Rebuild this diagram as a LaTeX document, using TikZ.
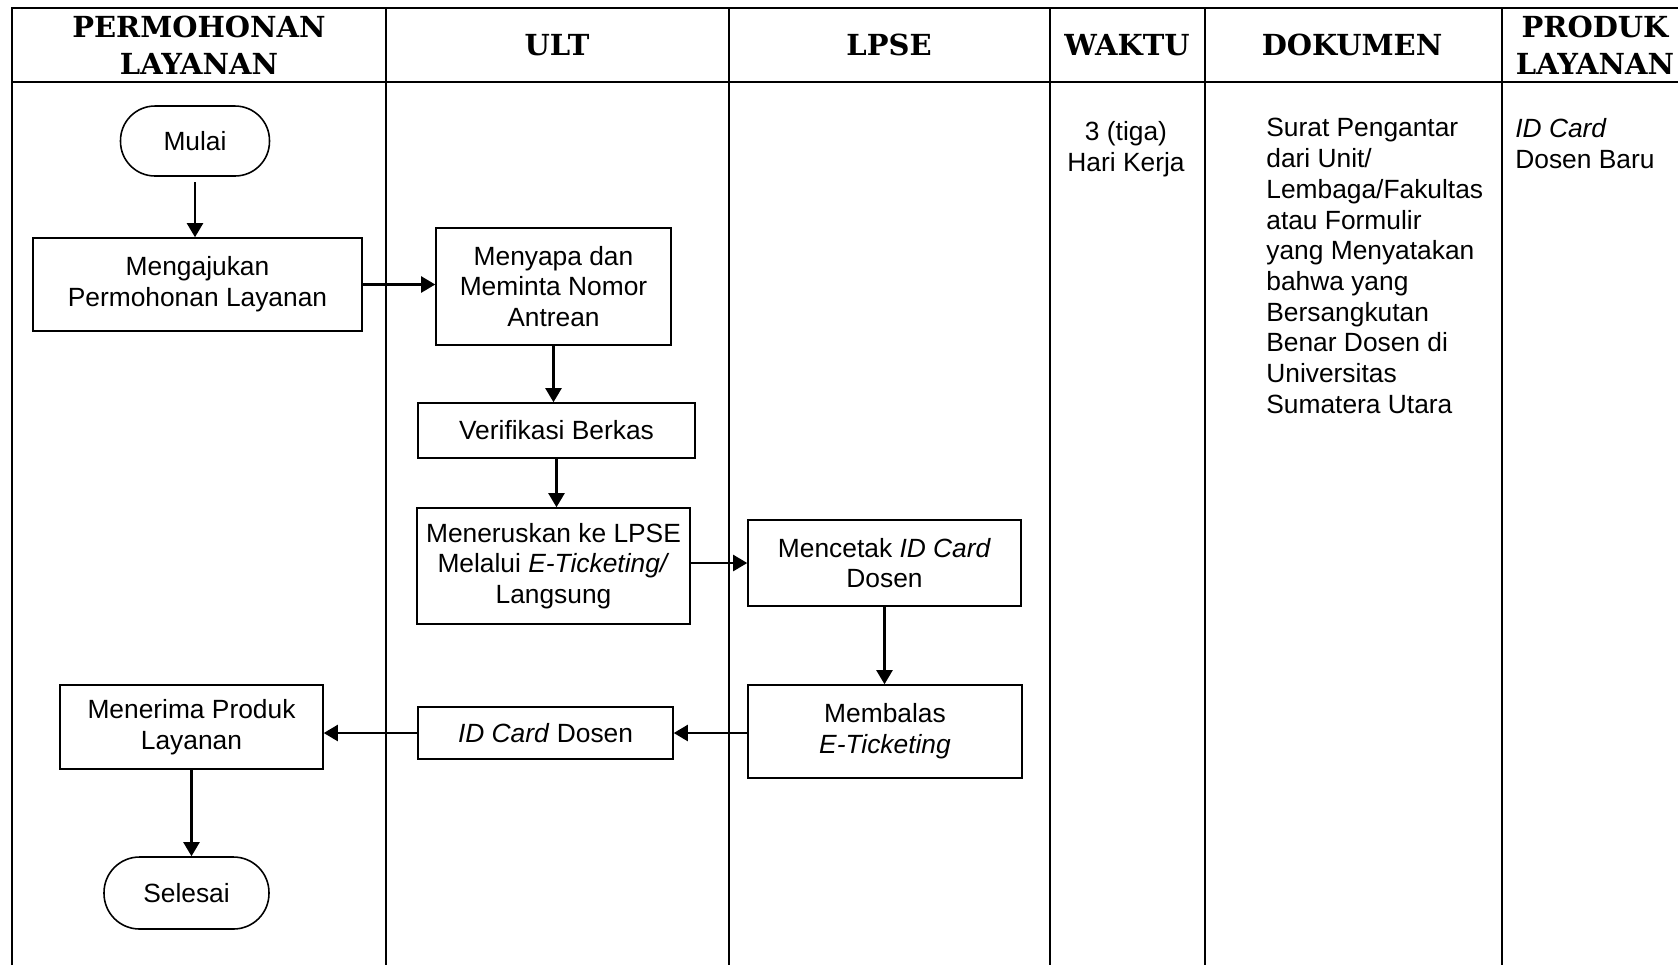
\documentclass[tikz,border=0pt]{standalone}
\usepackage{fontspec}
\usepackage{xcolor}
\usepackage{tikz}
\usetikzlibrary{arrows.meta}
\setmainfont{Liberation Sans}
\newfontfamily\headfont{DejaVu Serif}

\begin{document}
\begin{tikzpicture}[x=0.02cm, y=-0.02cm,
  every node/.style={font=\fontsize{15pt}{17.5pt}\selectfont},
  block/.style={rectangle, draw, line width=0.9pt, align=center, inner sep=0pt},
  term/.style={rectangle, draw, line width=0.9pt, align=center, rounded corners=0.69cm},
  head/.style={font=\headfont\bfseries\fontsize{16.5pt}{21pt}\selectfont, align=center},
  frame/.style={line width=1.4pt},
  arrow/.style={-{Triangle[length=0.28cm, width=0.32cm]}, line width=1.2pt}]

  \useasboundingbox (0,0) rectangle (1678,965);

  % table
  \draw[frame] (12,965) -- (12,8) -- (1678,8);
  \draw[frame] (12,82) -- (1678,82);
  \foreach \xc in {386,729,1050,1205,1502}
    \draw[frame] (\xc,8) -- (\xc,965);

  \node[head] (h1) at (199,45) {PERMOHONAN\\LAYANAN};
  \node[head] (h2) at (557,45) {ULT};
  \node[head] (h3) at (889,45) {LPSE};
  \node[head] (h4) at (1127,45) {WAKTU};
  \node[head] (h5) at (1352,45) {DOKUMEN};
  \node[head] (h6) at (1595,45) {PRODUK\\LAYANAN};

  % flow
  \node[term, minimum width=2.98cm, minimum height=1.40cm] (mulai) at (195,141) {Mulai};
  \node[block, minimum width=6.58cm, minimum height=1.86cm] (ajukan) at (197.5,284.5) {Mengajukan\\Permohonan Layanan};
  \node[block, minimum width=4.70cm, minimum height=2.34cm] (sapa) at (553.5,286.5) {Menyapa dan\\Meminta Nomor\\Antrean};
  \node[block, minimum width=5.54cm, minimum height=1.10cm] (verif) at (556.5,430.5) {Verifikasi Berkas};
  \node[block, minimum width=5.46cm, minimum height=2.32cm] (terus) at (553.5,566) {Meneruskan ke LPSE\\Melalui \textit{E-Ticketing/}\\Langsung};
  \node[block, minimum width=5.46cm, minimum height=1.72cm] (cetak) at (884.5,563) {Mencetak \textit{ID Card}\\Dosen};
  \node[block, minimum width=5.48cm, minimum height=1.86cm] (balas) at (885,731.5) {Membalas\\\textit{E-Ticketing}};
  \node[block, minimum width=5.10cm, minimum height=1.04cm] (idcard) at (545.5,733) {\textit{ID Card} Dosen};
  \node[block, minimum width=5.26cm, minimum height=1.68cm] (terima) at (191.5,727) {Menerima Produk\\Layanan};
  \node[term, minimum width=3.30cm, minimum height=1.44cm, rounded corners=0.71cm] (selesai) at (186.5,893) {Selesai};

  % columns
  \node[anchor=north, align=center] (waktu) at (1126,115) {3 (tiga)\\Hari Kerja};
  \node[anchor=north west, align=left, inner sep=0pt] (dok) at (1266,118) {Surat Pengantar\\dari Unit/\\Lembaga/Fakultas\\atau Formulir\\yang Menyatakan\\bahwa yang\\Bersangkutan\\Benar Dosen di\\Universitas\\Sumatera Utara};
  \node[anchor=north west, align=left, inner sep=0pt] (produk) at (1515,118) {\textit{ID Card}\\Dosen Baru};

  \draw[arrow, shorten <=3pt] (mulai.south) -- (mulai.south |- ajukan.north);
  \draw[arrow] (ajukan.east) -- (ajukan.east -| sapa.west);
  \draw[arrow] (sapa.south) -- (sapa.south |- verif.north);
  \draw[arrow] (verif.south) -- (verif.south |- terus.north);
  \draw[arrow] (terus.east |- cetak) -- (cetak.west);
  \draw[arrow] (cetak.south) -- (cetak.south |- balas.north);
  \draw[arrow] (balas.west |- idcard) -- (idcard.east);
  \draw[arrow] (idcard.west) -- (idcard.west -| terima.east);
  \draw[arrow] (terima.south) -- (terima.south |- selesai.north);

\end{tikzpicture}
\end{document}
